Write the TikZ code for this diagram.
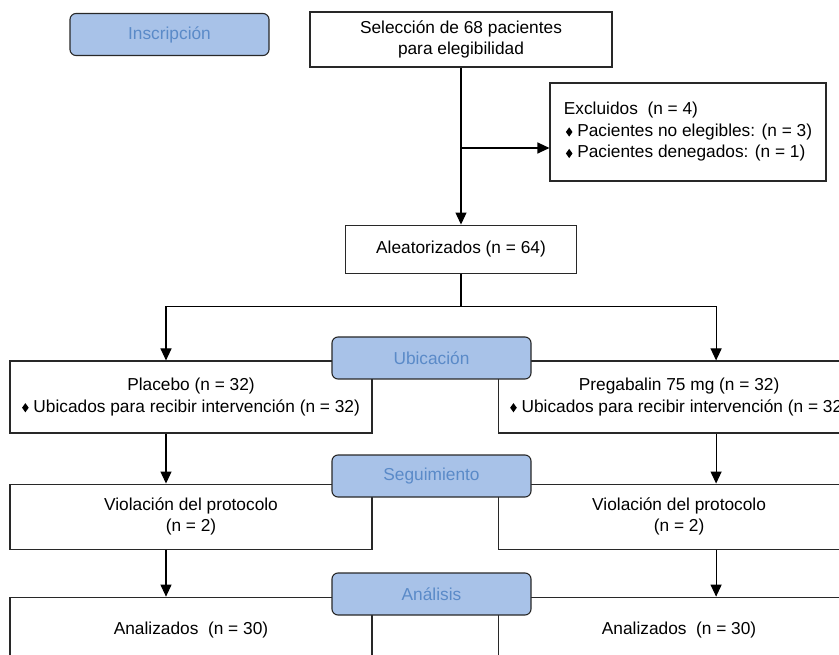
\documentclass[tikz,border=0pt]{standalone}
\usepackage{fontspec}
\setmainfont{Liberation Sans}
\usetikzlibrary{arrows.meta,positioning}

\definecolor{etapafondo}{RGB}{168,194,232}
\definecolor{etapatexto}{RGB}{90,138,200}
\definecolor{borde}{RGB}{40,40,40}
\newcommand{\rombo}{\tikz[baseline=-4.5pt]\fill (0,0) -- (3.3pt,4.6pt) -- (6.6pt,0) -- (3.3pt,-4.6pt) -- cycle;}

\begin{document}
\begin{tikzpicture}[
        x=1pt, y=1pt,
        caja/.style={
        draw=borde,
        line width=1.1pt,
        fill=white,
        align=center,
        inner sep=0pt,
        font=\fontsize{17.3}{21.5}\selectfont},
    etapa/.style={
        caja,
        rounded corners=6pt,
        fill=etapafondo,
        text=etapatexto,
        minimum width=199pt,
        minimum height=42pt},
    grupo/.style={caja, minimum width=362pt},
    flecha/.style={-{Triangle[width=11pt,length=12pt]}, line width=1.1pt},
    node distance=50pt and 125pt
    ]
    \useasboundingbox (0,0) rectangle (839,-655);
    \clip (0,0) rectangle (839,-655);

    \node[caja, minimum width=302pt, minimum height=55pt] (sel) at (461,-39.5) {Selección de 68 pacientes\\para elegibilidad};
    \node[caja, align=left, minimum width=276pt, minimum height=98pt] (excl) at (688,-132) {Excluidos\ \ (n = 4)\\
        \hspace*{2pt}\rombo\ Pacientes no elegibles: (n = 3)\\
        \hspace*{2pt}\rombo\ Pacientes denegados: (n = 1)};
    \node[caja, minimum width=231pt, minimum height=48pt, below=157pt of sel] (alea) {Aleatorizados (n = 64)};

    \node[grupo, minimum height=72pt] (plac) at (191,-397) {Placebo (n = 32)\\\rombo\ Ubicados para recibir intervención (n = 32)};
    \node[grupo, minimum height=72pt, right=of plac] (preg) {Pregabalin 75 mg (n = 32)\\\rombo\ Ubicados para recibir intervención (n = 32)};
    \node[grupo, minimum height=65pt, below=of plac] (violL) {Violación del protocolo\\(n = 2)};
    \node[grupo, minimum height=65pt, below=of preg] (violR) {Violación del protocolo\\(n = 2)};
    \node[grupo, minimum height=65pt, below=47pt of violL] (analizL) {Analizados\ \ (n = 30)};
    \node[grupo, minimum height=65pt, below=47pt of violR] (analizR) {Analizados\ \ (n = 30)};

    % etapas
    \node[etapa] (insc) at (169.5,-34.5) {Inscripción};
    \node[etapa] (ubic) at (431.5,-358) {Ubicación};
    \node[etapa] (segu) at (431.5,-476) {Seguimiento};
    \node[etapa] (anal) at (431.5,-594) {Análisis};

    \coordinate (excin) at ([yshift=-16pt]excl.west);
    \coordinate[below=33pt of alea] (rama);
    \draw[flecha] (sel.south) -- (sel.south |- alea.north);
    \draw[flecha] (sel.south |- excin) -- (excin);
    \draw[flecha] (alea.south) -- (rama) -| ([xshift=-25pt]plac.north);
    \draw[flecha] (rama) -| ([xshift=37pt]preg.north);

    \foreach \i/\j/\d in {% caja de arriba/caja de abajo/desplazamiento
        plac/violL/-25pt,
        violL/analizL/-25pt,
        preg/violR/37pt,
        violR/analizR/37pt}
        \draw[flecha] ([xshift=\d]\i.south) -- ([xshift=\d]\j.north);
\end{tikzpicture}
\end{document}
